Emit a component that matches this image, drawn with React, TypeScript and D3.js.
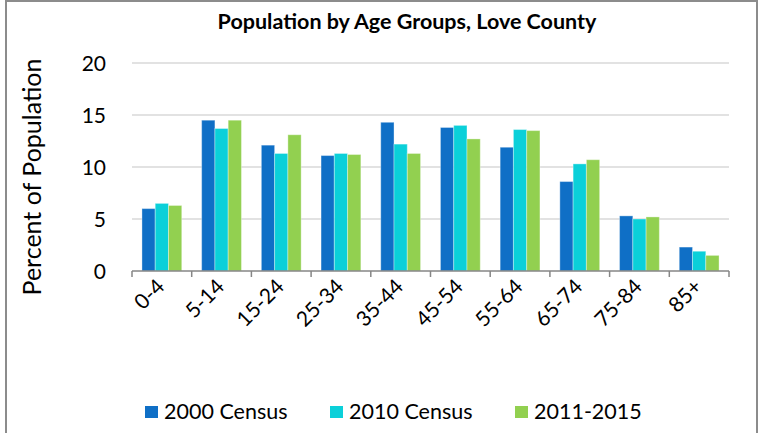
import React, { useEffect, useRef } from "react"
import * as d3 from "d3"

const categories = ["0-4", "5-14", "15-24", "25-34", "35-44", "45-54", "55-64", "65-74", "75-84", "85+"]
const seriesNames = ["2000 Census", "2010 Census", "2011-2015"]
const census2000 = [6.0, 14.5, 12.1, 11.1, 14.3, 13.8, 11.9, 8.6, 5.3, 2.3]
const census2010 = [6.5, 13.7, 11.3, 11.3, 12.2, 14.0, 13.6, 10.3, 5.0, 1.9]
const acs20112015 = [6.3, 14.5, 13.1, 11.2, 11.3, 12.7, 13.5, 10.7, 5.2, 1.5]
const yTicks = [0, 5, 10, 15, 20]
const colors = ["#0F6FC6", "#0BD0D9", "#92D050"]

const FONT = "Lato, 'Open Sans', sans-serif"

const App = () => {
  const ref = useRef<SVGSVGElement>(null)

  useEffect(() => {
    const svg = d3.select(ref.current)
    svg.selectAll("*").remove()

    const width = 760
    const height = 433
    const left = 132
    const right = 729
    const top = 63
    const bottom = 271

    const values = [census2000, census2010, acs20112015]

    // frame
    svg
      .append("rect")
      .attr("x", 6)
      .attr("y", 1)
      .attr("width", 751)
      .attr("height", height + 10)
      .attr("fill", "#fff")
      .attr("stroke", "#8c8c8c")
      .attr("stroke-width", 2)

    const x0 = d3.scaleBand().domain(categories).range([left, right])
    const x1 = d3
      .scaleBand()
      .domain(seriesNames)
      .range([0, x0.bandwidth()])
      .paddingInner(0)
      .paddingOuter(0.75)
    const y = d3.scaleLinear().domain([0, 20]).range([bottom, top])

    // gridlines
    svg
      .append("g")
      .selectAll("line")
      .data(yTicks.filter((t) => t > 0))
      .join("line")
      .attr("x1", left)
      .attr("x2", right)
      .attr("y1", (d) => y(d))
      .attr("y2", (d) => y(d))
      .attr("stroke", "#d9d9d9")
      .attr("stroke-width", 1.5)

    // y tick labels
    svg
      .append("g")
      .selectAll("text")
      .data(yTicks)
      .join("text")
      .attr("x", 106)
      .attr("y", (d) => y(d))
      .attr("dy", "0.36em")
      .attr("text-anchor", "end")
      .attr("font-family", FONT)
      .attr("font-size", 21)
      .attr("fill", "#000")
      .text((d) => d)

    // bars
    seriesNames.forEach((name, si) => {
      svg
        .append("g")
        .selectAll("rect")
        .data(values[si])
        .join("rect")
        .attr("x", (_, i) => (x0(categories[i]) as number) + (x1(name) as number))
        .attr("y", (d) => y(d))
        .attr("width", x1.bandwidth())
        .attr("height", (d) => y(0) - y(d))
        .attr("fill", colors[si])
        .attr("stroke", "rgba(255,255,255,0.35)")
        .attr("stroke-width", 1)
    })

    // x axis
    const axis = svg.append("g").attr("stroke", "#868686").attr("stroke-width", 1.5)
    axis
      .append("line")
      .attr("x1", left)
      .attr("x2", right)
      .attr("y1", bottom)
      .attr("y2", bottom)
    const boundaries = categories.map((c) => x0(c) as number).concat([right])
    axis
      .selectAll("line.tick")
      .data(boundaries)
      .join("line")
      .attr("class", "tick")
      .attr("x1", (d) => d)
      .attr("x2", (d) => d)
      .attr("y1", bottom)
      .attr("y2", bottom + 6)

    svg
      .append("g")
      .selectAll("text")
      .data(categories)
      .join("text")
      .attr(
        "transform",
        (d) => `translate(${(x0(d) as number) + x0.bandwidth() / 2 + 4}, 288) rotate(-45)`
      )
      .attr("text-anchor", "end")
      .attr("font-family", FONT)
      .attr("font-size", 21)
      .attr("fill", "#000")
      .text((d) => d)

    // y axis title
    svg
      .append("text")
      .attr("transform", "translate(41, 177) rotate(-90)")
      .attr("text-anchor", "middle")
      .attr("font-family", FONT)
      .attr("font-size", 25)
      .attr("fill", "#000")
      .text("Percent of Population")

    // title
    svg
      .append("text")
      .attr("x", 407)
      .attr("y", 29)
      .attr("text-anchor", "middle")
      .attr("font-family", FONT)
      .attr("font-weight", "bold")
      .attr("font-size", 21.5)
      .attr("fill", "#000")
      .text("Population by Age Groups, Love County")

    // legend
    const legendX = [145, 330, 515]
    const legend = svg
      .append("g")
      .selectAll("g")
      .data(seriesNames)
      .join("g")
      .attr("transform", (_, i) => `translate(${legendX[i]}, 406)`)
    legend
      .append("rect")
      .attr("width", 13)
      .attr("height", 12)
      .attr("fill", (_, i) => colors[i])
    legend
      .append("text")
      .attr("x", 19)
      .attr("y", 12.5)
      .attr("font-family", FONT)
      .attr("font-size", 21.5)
      .attr("fill", "#000")
      .text((d) => d)

    svg.attr("width", width).attr("height", height)
  }, [])

  return (
    <svg
      ref={ref}
      width={760}
      height={433}
      style={{ position: "absolute", left: 0, top: 0, display: "block" }}
    />
  )
}

export default App
